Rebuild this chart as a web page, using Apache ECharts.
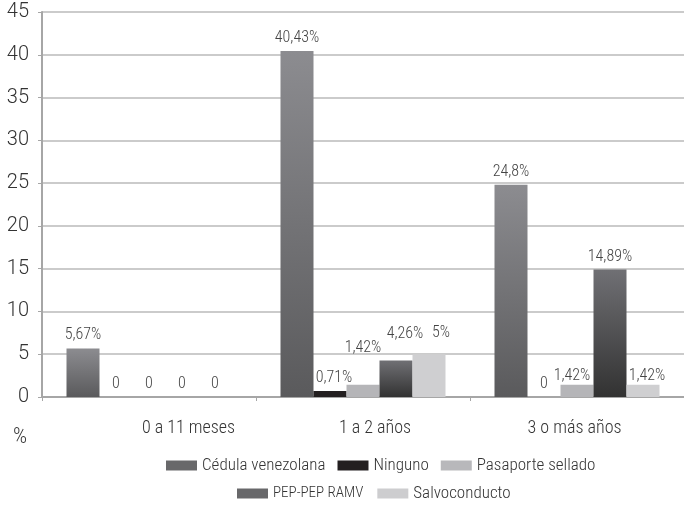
<!DOCTYPE html>
<html>
<head>
<meta charset="utf-8">
<script src="https://cdn.jsdelivr.net/npm/echarts@6/dist/echarts.min.js"></script>
<style>
  html, body { margin: 0; padding: 0; background: #ffffff; }
  #chart { width: 684px; height: 505px; }
</style>
</head>
<body>
<div id="chart"></div>
<script>
// Time of residence groups
const categories = ['0 a 11 meses', '1 a 2 años', '3 o más años'];

// Percentage of people holding each document, per group
const cedulaVenezolana = [5.67, 40.43, 24.8];
const ninguno = [0, 0.71, 0];
const pasaporteSellado = [0, 1.42, 1.42];
const pepRamv = [0, 4.26, 14.89];
const salvoconducto = [0, 5, 1.42];

const seriesNames = ['Cédula venezolana', 'Ninguno', 'Pasaporte sellado', 'PEP-PEP RAMV', 'Salvoconducto'];
const yTicks = { min: 0, max: 45, step: 5 };

const NARROW = "'Liberation Sans Narrow', 'Roboto Condensed', 'Liberation Sans', sans-serif";
const WIDE = "Roboto, 'Liberation Sans', Arial, sans-serif";
const LIGHT = 300;

// Bar fills
const vGrad = (top, bottom) => new echarts.graphic.LinearGradient(0, 0, 0, 1, [
  { offset: 0, color: top }, { offset: 1, color: bottom }
]);
const fills = [
  vGrad('#8c8c90', '#5a5a5c'),
  '#231f20',
  '#b5b5b8',
  vGrad('#707074', '#323232'),
  '#cfcfd1'
];
const legendColors = ['#68686a', '#231f20', '#b8b8bb', '#68686a', '#cdcdcf'];

// Nudges for labels that sit away from their bar tops: [series][category] -> [dx, dy]
const labelNudges = {
  1: { 1: [4, 0] },
  2: { 1: [0, -24], 2: [-5, 4] },
  3: { 1: [9, -14] },
  4: { 1: [12, -8], 2: [4, 4] }
};

const fmt = v => (v === 0 ? '0' : String(v).replace('.', ',') + '%');

const seriesValues = [cedulaVenezolana, ninguno, pasaporteSellado, pepRamv, salvoconducto];

const series = seriesValues.map((vals, si) => ({
  name: seriesNames[si],
  type: 'bar',
  barWidth: 33,
  barGap: '0%',
  itemStyle: { color: fills[si] },
  label: {
    show: true,
    position: 'top',
    distance: 5,
    color: '#444',
    fontFamily: NARROW,
    fontWeight: LIGHT,
    fontSize: 16,
    formatter: p => fmt(p.value)
  },
  data: vals.map((v, ci) => {
    const n = labelNudges[si] && labelNudges[si][ci];
    return n ? { value: v, label: { offset: n } } : v;
  })
}));

// Category label shifts (rich padding)
const catRich = {};
[[0, 0, 0, 79], [0, 0, 0, 24], [0, 5, 0, 0]].forEach((pad, i) => {
  catRich['c' + i] = { fontFamily: NARROW, fontWeight: LIGHT, fontSize: 18, color: '#333', padding: pad };
});

const legendText = {
  fontFamily: NARROW, fontWeight: LIGHT, fontSize: 17, color: '#333',
  rich: { s: { fontFamily: NARROW, fontWeight: LIGHT, fontSize: 15, color: '#333' } }
};

const chart = echarts.init(document.getElementById('chart'), null, { renderer: 'canvas' });
chart.setOption({
  animation: false,
  backgroundColor: '#ffffff',
  grid: { left: 42, right: 0, top: 12, bottom: 108, containLabel: false },
  legend: [
    {
      left: 161, top: 452,
      icon: 'rect', itemWidth: 31, itemHeight: 10, itemGap: 12,
      textStyle: legendText,
      data: [0, 1, 2].map(i => ({ name: seriesNames[i], itemStyle: { color: legendColors[i] } }))
    },
    {
      left: 232, top: 480,
      icon: 'rect', itemWidth: 31, itemHeight: 10, itemGap: 14,
      textStyle: legendText,
      formatter: name => (name === 'PEP-PEP RAMV' ? '{s|' + name + '}' : name),
      data: [3, 4].map(i => ({ name: seriesNames[i], itemStyle: { color: legendColors[i] } }))
    }
  ],
  xAxis: {
    type: 'category',
    data: categories,
    axisLine: { lineStyle: { color: '#a6a6a6', width: 2 } },
    axisTick: { show: true, length: 4, lineStyle: { color: '#a6a6a6', width: 1 } },
    axisLabel: {
      margin: 22,
      formatter: (v, i) => '{c' + i + '|' + v + '}',
      rich: catRich
    },
    splitLine: { show: false }
  },
  yAxis: {
    type: 'value',
    min: yTicks.min,
    max: yTicks.max,
    interval: yTicks.step,
    name: '%',
    nameLocation: 'start',
    nameGap: 29,
    nameTextStyle: {
      fontFamily: NARROW, fontWeight: LIGHT, fontSize: 22, color: '#333',
      padding: [0, 44, 0, 0]
    },
    axisLine: { show: true, lineStyle: { color: '#a6a6a6', width: 2 } },
    axisTick: { show: true, length: 4, lineStyle: { color: '#a6a6a6', width: 1 } },
    axisLabel: { fontFamily: WIDE, fontWeight: LIGHT, fontSize: 20, color: '#333', margin: 13 },
    splitLine: { show: true, lineStyle: { color: '#cbcbcb', width: 2 } }
  },
  series: series
});
</script>
</body>
</html>
